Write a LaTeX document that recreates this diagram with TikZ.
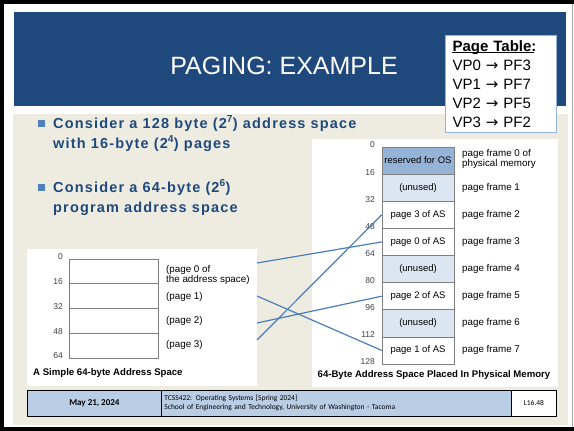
\documentclass[tikz,border=0pt]{standalone}
\usepackage{fontspec}
\setmainfont{Liberation Sans}
\newfontfamily\footfont{Carlito}
\newfontfamily\arrowfont{DejaVu Sans}
\newfontfamily\bulletfont[LetterSpace=8]{Liberation Sans}

\definecolor{hdrblue}{HTML}{1F497D}
\definecolor{slidetan}{HTML}{EEECE1}
\definecolor{bulletblue}{HTML}{4F81BD}
\definecolor{linkblue}{HTML}{4A7EBB}
\definecolor{osblue}{HTML}{95B3D7}
\definecolor{unusedblue}{HTML}{DCE6F2}
\definecolor{footblue}{HTML}{B9CDE5}
\definecolor{cellgray}{HTML}{7F7F7F}

\newcommand{\maparrow}{{\arrowfont →}}

\tikzset{
  memcell/.style={draw=cellgray, line width=0.6pt, minimum width=72pt, minimum height=27.125pt,
    inner sep=0pt, font=\fontsize{9.5}{11}\selectfont},
  oscell/.style={memcell, fill=osblue},
  unusedcell/.style={memcell, fill=unusedblue},
  plaincell/.style={memcell, fill=white},
  vcell/.style={draw=cellgray, line width=0.6pt, fill=white, minimum width=89pt,
    minimum height=24.75pt, inner sep=0pt},
  smalltext/.style={inner sep=0pt, font=\fontsize{9.8}{11.5}\selectfont, align=left},
  addrnum/.style={inner sep=0pt, anchor=east, font=\fontsize{8.5}{10}\selectfont, text=black!75},
  bullettext/.style={inner sep=0pt, anchor=base west, text=hdrblue,
    font=\bulletfont\fontsize{14.5}{18}\selectfont\bfseries},
  caption/.style={inner sep=0pt, font=\fontsize{9.6}{11}\selectfont\bfseries},
  link/.style={draw=linkblue, line width=1.2pt},
  footcell/.style={draw=black, line width=0.8pt, minimum height=26pt, inner sep=0pt,
    anchor=north west, font=\footfont\fontsize{7.5}{9}\selectfont}
}

\begin{document}
\begin{tikzpicture}[x=1pt, y=-1pt]
\useasboundingbox (0,0) rectangle (574,431);

% page background and frame
\fill[white] (0,0) rectangle (574,431);
\fill[black] (0,0) rectangle (574,4);
\fill[black] (0,0) rectangle (4,431);
\fill[black] (0,427) rectangle (574,431);
\draw[black!35, line width=0.8pt] (572.6,4) -- (572.6,427);

% title bar
\fill[hdrblue] (14,12) rectangle (566,106);
\node[text=white, inner sep=0pt, font=\fontsize{25}{30}\selectfont] (title) at (284,66) {PAGING: EXAMPLE};

% content area
\fill[slidetan] (13,114) rectangle (568,425);

% page table call-out
\node[draw=osblue, line width=1pt, fill=white, anchor=north west, minimum width=111pt,
  minimum height=97pt, text width=97pt, align=left, inner xsep=7pt,
  font=\fontsize{15}{19}\selectfont] (ptable) at (445,35)
  {\textbf{Page Table:}\\
   VP0 \maparrow{} PF3\\
   VP1 \maparrow{} PF7\\
   VP2 \maparrow{} PF5\\
   VP3 \maparrow{} PF2};
\coordinate (ulineA) at (452,52.3);
\coordinate (ulineB) at (534,52.3);
\draw[line width=1pt] (ulineA) -- (ulineB);

% bullets
\fill[bulletblue] (38,119.5) rectangle (45,126.5);
\fill[bulletblue] (38,183.5) rectangle (45,190.5);
\node[bullettext] (b1a) at (53,128) {Consider a 128 byte (2\textsuperscript{7}) address space};
\node[bullettext] (b1b) at (53,148) {with 16-byte (2\textsuperscript{4}) pages};
\node[bullettext] (b2a) at (53,192) {Consider a 64-byte (2\textsuperscript{6})};
\node[bullettext] (b2b) at (53,212) {program address space};

% white panels behind the two memory pictures
\fill[white] (312,139) rectangle (558,387);
\fill[white] (27,249) rectangle (257,386);

% physical memory: eight 16-byte frames
\node[oscell]     (pf0) at (418,160.56) {reserved for OS};
\node[unusedcell] (pf1) at (418,187.69) {(unused)};
\node[plaincell]  (pf2) at (418,214.81) {page 3 of AS};
\node[plaincell]  (pf3) at (418,241.94) {page 0 of AS};
\node[unusedcell] (pf4) at (418,269.06) {(unused)};
\node[plaincell]  (pf5) at (418,296.19) {page 2 of AS};
\node[unusedcell] (pf6) at (418,323.31) {(unused)};
\node[plaincell]  (pf7) at (418,350.44) {page 1 of AS};

\foreach \v [count=\k from 0] in {0,16,32,48,64,80,96,112,128}
  \node[addrnum] (pa\k) at (375,{147+27.125*\k-2}) {\v};

\node[smalltext, anchor=west] (pfl0) at (462,158.5) {page frame 0 of\\[-1.5pt]physical memory};
\foreach \k in {1,...,7}
  \node[smalltext, anchor=west] (pfl\k) at (462,{160.56+27.125*\k}) {page frame \k};

\node[caption] (pcap) at (434,375) {64-Byte Address Space Placed In Physical Memory};

% virtual address space: four 16-byte pages
\foreach \k in {0,...,3}
  \node[vcell] (vp\k) at (113.5,{259+24.75*\k+12.375}) {};

\foreach \v [count=\k from 0] in {0,16,32,48,64}
  \node[addrnum] (va\k) at (63,{259+24.75*\k-2}) {\v};

\node[smalltext, anchor=west] (vl0) at (166,274.5) {(page 0 of\\[-1.5pt]the address space)};
\node[smalltext, anchor=west] (vl1) at (166,297) {(page 1)};
\node[smalltext, anchor=west] (vl2) at (166,321) {(page 2)};
\node[smalltext, anchor=west] (vl3) at (166,345) {(page 3)};

\node[caption, anchor=west] (vcap) at (33,373) {A Simple 64-byte Address Space};

% page-to-frame mapping
\coordinate (s0) at (257,263);
\coordinate (s1) at (257,296);
\coordinate (s2) at (257,323);
\coordinate (s3) at (257,340);
\draw[link] (s0) -- (pf3.west);
\draw[link] (s1) -- (pf7.west);
\draw[link] (s2) -- (pf5.west);
\draw[link] (s3) -- (pf2.west);

% footer
\node[footcell, fill=footblue, minimum width=134pt] (fdate) at (27,390)
  {\fontsize{9}{11}\selectfont\bfseries May 21, 2024};
\node[footcell, fill=footblue, minimum width=350pt, text width=344pt, align=left] (fcourse) at (161,390)
  {TCSS422: Operating Systems [Spring 2024]\\School of Engineering and Technology, University of Washington - Tacoma};
\node[footcell, fill=white, minimum width=45pt] (fslide) at (511,390) {L16.48};
\end{tikzpicture}
\end{document}
